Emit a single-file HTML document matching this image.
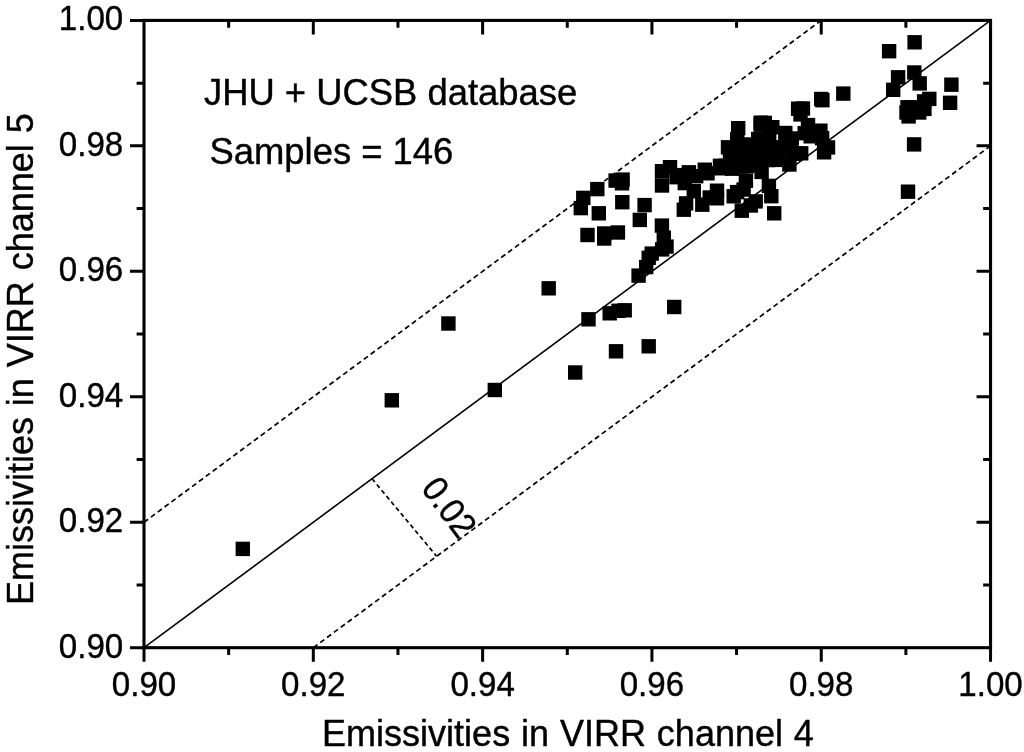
<!DOCTYPE html>
<html lang="en"><head><meta charset="utf-8"><title>Emissivities in VIRR channel 4 vs channel 5</title>
<style>html,body{margin:0;padding:0;background:#fff}body{width:1024px;height:752px;overflow:hidden}svg{display:block}text{font-family:"Liberation Sans",Arial,Helvetica,sans-serif;fill:#000;stroke:#000;stroke-width:0.4px}</style></head><body>
<svg width="1024" height="752" viewBox="0 0 1024 752">
<rect width="1024" height="752" fill="#fff"/>
<g stroke="#000" fill="none">
<line x1="144.0" y1="647.7" x2="990.55" y2="20.4" stroke-width="1.6"/>
<line x1="144.0" y1="522.24" x2="821.24" y2="20.4" stroke-width="1.7" stroke-dasharray="5.1 3.45"/>
<line x1="313.31" y1="647.7" x2="990.55" y2="145.86" stroke-width="1.7" stroke-dasharray="5.1 3.45"/>
<line x1="372" y1="478.7" x2="436.6" y2="556.2" stroke-width="1.7" stroke-dasharray="4.4 3.1"/>
</g>
<g fill="#000">
<rect x="235.6" y="541.7" width="14.4" height="14.4"/>
<rect x="384.6" y="393.1" width="14.4" height="14.4"/>
<rect x="441.2" y="316.3" width="14.4" height="14.4"/>
<rect x="487.6" y="382.8" width="14.4" height="14.4"/>
<rect x="541.5" y="281.1" width="14.4" height="14.4"/>
<rect x="568.0" y="365.3" width="14.4" height="14.4"/>
<rect x="581.3" y="312.1" width="14.4" height="14.4"/>
<rect x="602.5" y="306.1" width="14.4" height="14.4"/>
<rect x="611.3" y="303.6" width="14.4" height="14.4"/>
<rect x="617.5" y="303.1" width="14.4" height="14.4"/>
<rect x="608.8" y="344.1" width="14.4" height="14.4"/>
<rect x="641.5" y="339.1" width="14.4" height="14.4"/>
<rect x="667.0" y="299.8" width="14.4" height="14.4"/>
<rect x="590.1" y="181.9" width="14.4" height="14.4"/>
<rect x="576.1" y="190.7" width="14.4" height="14.4"/>
<rect x="573.6" y="200.9" width="14.4" height="14.4"/>
<rect x="591.6" y="206.1" width="14.4" height="14.4"/>
<rect x="608.4" y="173.4" width="14.4" height="14.4"/>
<rect x="615.4" y="172.4" width="14.4" height="14.4"/>
<rect x="614.8" y="176.1" width="14.4" height="14.4"/>
<rect x="615.1" y="195.0" width="14.4" height="14.4"/>
<rect x="637.4" y="197.9" width="14.4" height="14.4"/>
<rect x="632.6" y="212.7" width="14.4" height="14.4"/>
<rect x="580.3" y="227.8" width="14.4" height="14.4"/>
<rect x="597.0" y="231.3" width="14.4" height="14.4"/>
<rect x="610.7" y="225.3" width="14.4" height="14.4"/>
<rect x="597.0" y="226.3" width="14.4" height="14.4"/>
<rect x="654.7" y="218.4" width="14.4" height="14.4"/>
<rect x="656.6" y="230.5" width="14.4" height="14.4"/>
<rect x="659.3" y="239.4" width="14.4" height="14.4"/>
<rect x="654.9" y="242.2" width="14.4" height="14.4"/>
<rect x="644.5" y="246.4" width="14.4" height="14.4"/>
<rect x="641.5" y="250.6" width="14.4" height="14.4"/>
<rect x="639.0" y="259.9" width="14.4" height="14.4"/>
<rect x="631.4" y="268.4" width="14.4" height="14.4"/>
<rect x="654.8" y="164.0" width="14.4" height="14.4"/>
<rect x="654.8" y="178.3" width="14.4" height="14.4"/>
<rect x="662.8" y="160.0" width="14.4" height="14.4"/>
<rect x="681.7" y="165.1" width="14.4" height="14.4"/>
<rect x="677.1" y="167.9" width="14.4" height="14.4"/>
<rect x="669.3" y="170.0" width="14.4" height="14.4"/>
<rect x="677.6" y="175.9" width="14.4" height="14.4"/>
<rect x="686.6" y="184.0" width="14.4" height="14.4"/>
<rect x="697.6" y="162.5" width="14.4" height="14.4"/>
<rect x="689.0" y="169.0" width="14.4" height="14.4"/>
<rect x="700.3" y="166.1" width="14.4" height="14.4"/>
<rect x="712.8" y="158.6" width="14.4" height="14.4"/>
<rect x="709.8" y="183.5" width="14.4" height="14.4"/>
<rect x="709.8" y="191.1" width="14.4" height="14.4"/>
<rect x="702.5" y="190.3" width="14.4" height="14.4"/>
<rect x="695.1" y="197.5" width="14.4" height="14.4"/>
<rect x="726.5" y="189.1" width="14.4" height="14.4"/>
<rect x="729.9" y="184.9" width="14.4" height="14.4"/>
<rect x="734.6" y="203.5" width="14.4" height="14.4"/>
<rect x="678.9" y="196.2" width="14.4" height="14.4"/>
<rect x="676.6" y="202.5" width="14.4" height="14.4"/>
<rect x="767.0" y="206.1" width="14.4" height="14.4"/>
<rect x="764.1" y="189.0" width="14.4" height="14.4"/>
<rect x="761.7" y="178.7" width="14.4" height="14.4"/>
<rect x="754.4" y="164.7" width="14.4" height="14.4"/>
<rect x="748.5" y="194.2" width="14.4" height="14.4"/>
<rect x="743.6" y="198.3" width="14.4" height="14.4"/>
<rect x="738.7" y="173.5" width="14.4" height="14.4"/>
<rect x="736.4" y="182.3" width="14.4" height="14.4"/>
<rect x="731.0" y="121.0" width="14.4" height="14.4"/>
<rect x="730.0" y="131.8" width="14.4" height="14.4"/>
<rect x="720.8" y="140.1" width="14.4" height="14.4"/>
<rect x="753.5" y="115.5" width="14.4" height="14.4"/>
<rect x="753.5" y="117.5" width="14.4" height="14.4"/>
<rect x="757.6" y="115.7" width="14.4" height="14.4"/>
<rect x="751.0" y="131.8" width="14.4" height="14.4"/>
<rect x="765.1" y="120.0" width="14.4" height="14.4"/>
<rect x="778.1" y="125.8" width="14.4" height="14.4"/>
<rect x="762.0" y="129.9" width="14.4" height="14.4"/>
<rect x="770.6" y="140.1" width="14.4" height="14.4"/>
<rect x="790.9" y="101.5" width="14.4" height="14.4"/>
<rect x="795.7" y="101.3" width="14.4" height="14.4"/>
<rect x="793.3" y="107.2" width="14.4" height="14.4"/>
<rect x="797.5" y="126.0" width="14.4" height="14.4"/>
<rect x="783.3" y="132.8" width="14.4" height="14.4"/>
<rect x="784.6" y="131.3" width="14.4" height="14.4"/>
<rect x="794.0" y="146.1" width="14.4" height="14.4"/>
<rect x="803.5" y="129.1" width="14.4" height="14.4"/>
<rect x="782.2" y="157.3" width="14.4" height="14.4"/>
<rect x="731.8" y="140.8" width="14.4" height="14.4"/>
<rect x="742.8" y="139.8" width="14.4" height="14.4"/>
<rect x="740.8" y="137.3" width="14.4" height="14.4"/>
<rect x="756.3" y="140.8" width="14.4" height="14.4"/>
<rect x="781.8" y="142.8" width="14.4" height="14.4"/>
<rect x="722.8" y="149.8" width="14.4" height="14.4"/>
<rect x="734.8" y="149.8" width="14.4" height="14.4"/>
<rect x="746.8" y="149.8" width="14.4" height="14.4"/>
<rect x="758.8" y="150.3" width="14.4" height="14.4"/>
<rect x="770.8" y="149.8" width="14.4" height="14.4"/>
<rect x="787.8" y="146.0" width="14.4" height="14.4"/>
<rect x="718.3" y="158.6" width="14.4" height="14.4"/>
<rect x="713.4" y="161.1" width="14.4" height="14.4"/>
<rect x="719.8" y="160.0" width="14.4" height="14.4"/>
<rect x="724.9" y="161.5" width="14.4" height="14.4"/>
<rect x="733.8" y="159.3" width="14.4" height="14.4"/>
<rect x="739.8" y="159.0" width="14.4" height="14.4"/>
<rect x="749.8" y="157.8" width="14.4" height="14.4"/>
<rect x="760.8" y="152.8" width="14.4" height="14.4"/>
<rect x="768.4" y="152.7" width="14.4" height="14.4"/>
<rect x="836.1" y="86.4" width="14.4" height="14.4"/>
<rect x="814.0" y="91.8" width="14.4" height="14.4"/>
<rect x="815.2" y="93.0" width="14.4" height="14.4"/>
<rect x="800.8" y="117.9" width="14.4" height="14.4"/>
<rect x="813.2" y="123.5" width="14.4" height="14.4"/>
<rect x="814.9" y="131.0" width="14.4" height="14.4"/>
<rect x="820.8" y="140.2" width="14.4" height="14.4"/>
<rect x="816.9" y="145.1" width="14.4" height="14.4"/>
<rect x="881.9" y="44.0" width="14.4" height="14.4"/>
<rect x="907.4" y="35.1" width="14.4" height="14.4"/>
<rect x="907.1" y="65.3" width="14.4" height="14.4"/>
<rect x="890.9" y="70.1" width="14.4" height="14.4"/>
<rect x="886.0" y="82.6" width="14.4" height="14.4"/>
<rect x="912.5" y="76.2" width="14.4" height="14.4"/>
<rect x="944.2" y="77.5" width="14.4" height="14.4"/>
<rect x="942.9" y="95.6" width="14.4" height="14.4"/>
<rect x="922.1" y="91.7" width="14.4" height="14.4"/>
<rect x="916.9" y="94.2" width="14.4" height="14.4"/>
<rect x="917.2" y="101.7" width="14.4" height="14.4"/>
<rect x="912.0" y="105.3" width="14.4" height="14.4"/>
<rect x="901.4" y="109.2" width="14.4" height="14.4"/>
<rect x="899.3" y="105.3" width="14.4" height="14.4"/>
<rect x="900.3" y="100.1" width="14.4" height="14.4"/>
<rect x="904.8" y="100.1" width="14.4" height="14.4"/>
<rect x="907.8" y="100.8" width="14.4" height="14.4"/>
<rect x="906.9" y="137.2" width="14.4" height="14.4"/>
<rect x="900.8" y="184.5" width="14.4" height="14.4"/>
<rect x="737.8" y="144.8" width="14.4" height="14.4"/>
<rect x="749.8" y="144.8" width="14.4" height="14.4"/>
<rect x="762.8" y="144.8" width="14.4" height="14.4"/>
<rect x="775.8" y="143.3" width="14.4" height="14.4"/>
<rect x="727.8" y="144.8" width="14.4" height="14.4"/>
<rect x="744.8" y="151.8" width="14.4" height="14.4"/>
<rect x="757.8" y="145.8" width="14.4" height="14.4"/>
<rect x="736.8" y="152.3" width="14.4" height="14.4"/>
<rect x="728.8" y="152.8" width="14.4" height="14.4"/>
<rect x="752.8" y="136.8" width="14.4" height="14.4"/>
<rect x="761.3" y="138.8" width="14.4" height="14.4"/>
<rect x="777.8" y="140.8" width="14.4" height="14.4"/>
<rect x="782.8" y="139.3" width="14.4" height="14.4"/>
<rect x="786.8" y="146.3" width="14.4" height="14.4"/>
<rect x="734.8" y="137.8" width="14.4" height="14.4"/>
</g>
<g stroke="#000" stroke-width="3.1" fill="none" stroke-linecap="butt">
<rect x="144.0" y="20.4" width="846.55" height="627.3000000000001"/>
<path d="M144.00 647.7v14.0 M144.0 647.70h-14.0 M228.66 647.7v7.4 M144.0 584.97h-7.4 M228.66 20.4v7.4 M990.55 584.97h-7.4 M313.31 647.7v14.0 M144.0 522.24h-14.0 M313.31 20.4v14.0 M990.55 522.24h-14.0 M397.97 647.7v7.4 M144.0 459.51h-7.4 M397.97 20.4v7.4 M990.55 459.51h-7.4 M482.62 647.7v14.0 M144.0 396.78h-14.0 M482.62 20.4v14.0 M990.55 396.78h-14.0 M567.28 647.7v7.4 M144.0 334.05h-7.4 M567.28 20.4v7.4 M990.55 334.05h-7.4 M651.93 647.7v14.0 M144.0 271.32h-14.0 M651.93 20.4v14.0 M990.55 271.32h-14.0 M736.58 647.7v7.4 M144.0 208.59h-7.4 M736.58 20.4v7.4 M990.55 208.59h-7.4 M821.24 647.7v14.0 M144.0 145.86h-14.0 M821.24 20.4v14.0 M990.55 145.86h-14.0 M905.89 647.7v7.4 M144.0 83.13h-7.4 M905.89 20.4v7.4 M990.55 83.13h-7.4 M990.55 647.7v14.0 M144.0 20.40h-14.0" stroke-width="3"/>
</g>
<g font-size="34px">
<text transform="translate(144.0,696.3) scale(0.926,1)" text-anchor="middle" font-size="35.75px">0.90</text>
<text transform="translate(123.2,657.6) scale(0.926,1)" text-anchor="end" font-size="35.75px">0.90</text>
<text transform="translate(313.3,696.3) scale(0.926,1)" text-anchor="middle" font-size="35.75px">0.92</text>
<text transform="translate(123.2,532.1) scale(0.926,1)" text-anchor="end" font-size="35.75px">0.92</text>
<text transform="translate(482.6,696.3) scale(0.926,1)" text-anchor="middle" font-size="35.75px">0.94</text>
<text transform="translate(123.2,406.7) scale(0.926,1)" text-anchor="end" font-size="35.75px">0.94</text>
<text transform="translate(651.9,696.3) scale(0.926,1)" text-anchor="middle" font-size="35.75px">0.96</text>
<text transform="translate(123.2,281.2) scale(0.926,1)" text-anchor="end" font-size="35.75px">0.96</text>
<text transform="translate(821.2,696.3) scale(0.926,1)" text-anchor="middle" font-size="35.75px">0.98</text>
<text transform="translate(123.2,155.8) scale(0.926,1)" text-anchor="end" font-size="35.75px">0.98</text>
<text transform="translate(990.5,696.3) scale(0.926,1)" text-anchor="middle" font-size="35.75px">1.00</text>
<text transform="translate(123.2,30.3) scale(0.926,1)" text-anchor="end" font-size="35.75px">1.00</text>
<text x="568" y="745.8" text-anchor="middle" font-size="36px" word-spacing="0.9">Emissivities in VIRR channel 4</text>
<text transform="translate(33.3,359.2) rotate(-90)" text-anchor="middle" font-size="36px" word-spacing="0.9">Emissivities in VIRR channel 5</text>
<text x="204" y="104.6" font-size="36.4px">JHU + UCSB database</text>
<text x="209.5" y="163.5" font-size="36.4px">Samples = 146</text>
<text transform="translate(420.3,488.5) rotate(53.5) scale(0.926,1)" font-size="35.75px">0.02</text>
</g>
</svg></body></html>
